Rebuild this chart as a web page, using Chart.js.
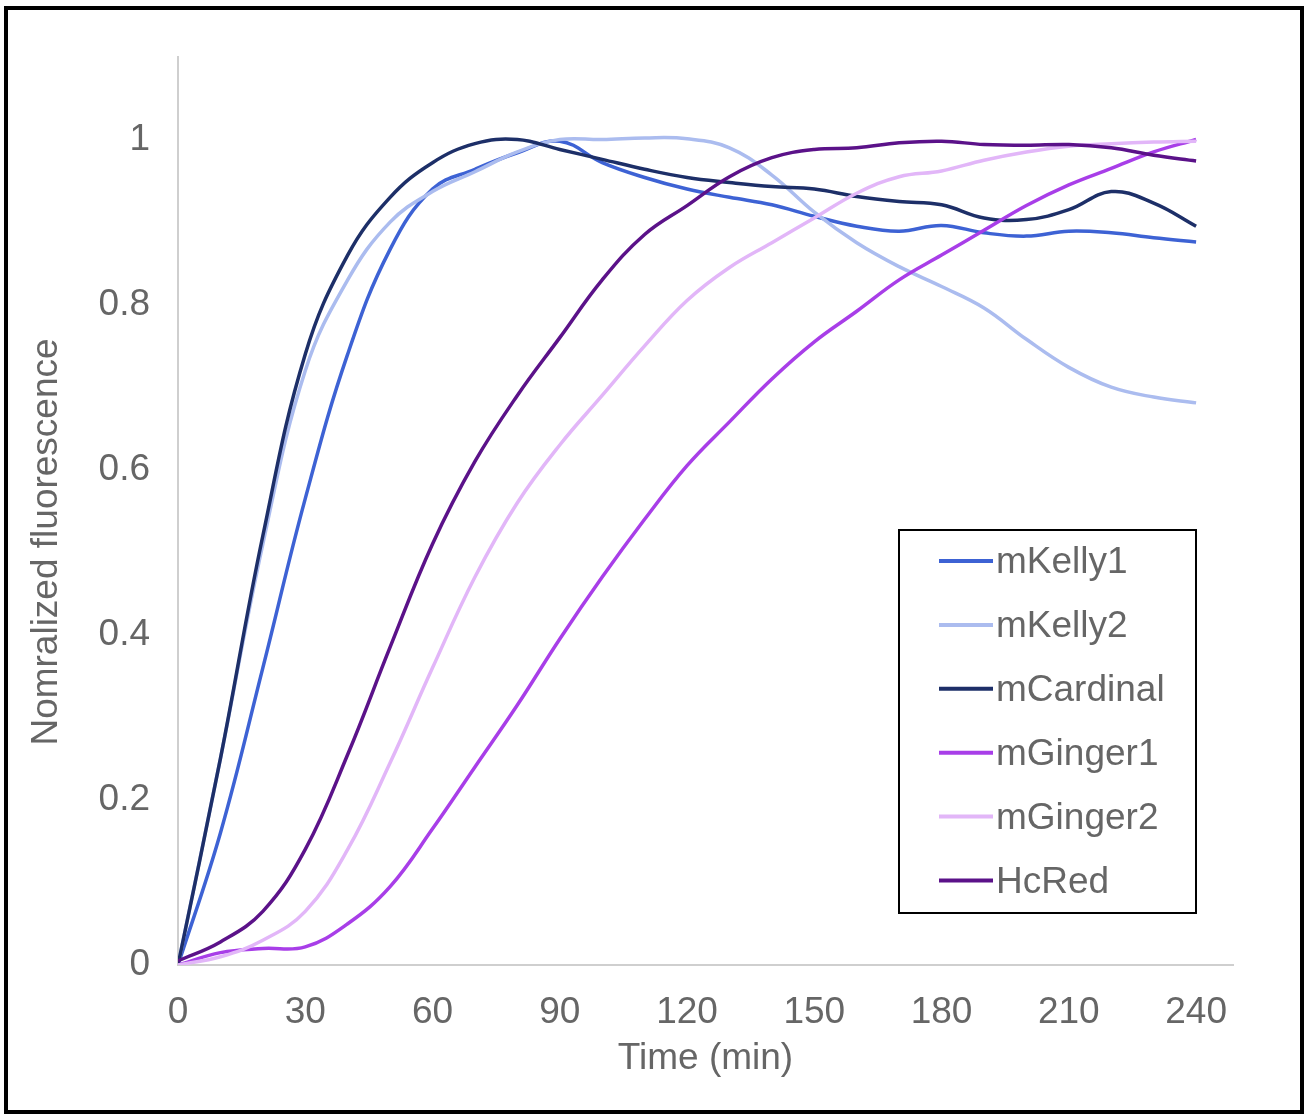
<!DOCTYPE html>
<html>
<head>
<meta charset="utf-8">
<script src="https://cdn.jsdelivr.net/npm/chart.js@4"></script>
<style>
  html, body { margin: 0; padding: 0; background: #fff; }
  #wrap { position: relative; width: 1304px; height: 1114px; overflow: hidden; }
  #frame { position: absolute; left: 4px; top: 6px; width: 1292px; height: 1100px; border: 4px solid #000; background: #fff; }
  #chart { position: absolute; left: 0; top: 0; }
</style>
</head>
<body>
<div id="wrap">
  <div id="frame"></div>
  <canvas id="chart" width="1304" height="1114"></canvas>
</div>
<script>
  // time points (min)
  const times = [0, 10, 20, 30, 40, 50, 60, 70, 80, 90, 100, 110, 120, 130, 140, 150, 160, 170, 180, 190, 200, 210, 220, 230, 240];

  const mKelly1 = [0, 0.16, 0.36, 0.565, 0.74, 0.867, 0.94, 0.964, 0.984, 0.998, 0.972, 0.954, 0.94, 0.93, 0.921, 0.907, 0.895, 0.889, 0.896, 0.887, 0.883, 0.889, 0.887, 0.881, 0.876];
  const mKelly2 = [0, 0.25, 0.51, 0.72, 0.83, 0.9, 0.937, 0.961, 0.985, 1.0, 1.0, 1.002, 1.001, 0.99, 0.957, 0.912, 0.875, 0.846, 0.822, 0.796, 0.758, 0.724, 0.7, 0.688, 0.681];
  const mCardinal = [0, 0.25, 0.52, 0.74, 0.86, 0.93, 0.972, 0.995, 1.0, 0.988, 0.976, 0.964, 0.954, 0.948, 0.943, 0.94, 0.931, 0.925, 0.921, 0.905, 0.903, 0.915, 0.937, 0.923, 0.895];
  const mGinger1 = [0, 0.015, 0.02, 0.022, 0.05, 0.095, 0.165, 0.24, 0.315, 0.395, 0.47, 0.54, 0.605, 0.658, 0.71, 0.755, 0.792, 0.83, 0.86, 0.89, 0.92, 0.945, 0.965, 0.985, 1.0];
  const mGinger2 = [0, 0.01, 0.03, 0.065, 0.14, 0.245, 0.36, 0.47, 0.56, 0.63, 0.69, 0.75, 0.805, 0.845, 0.875, 0.905, 0.935, 0.955, 0.962, 0.975, 0.985, 0.992, 0.995, 0.997, 0.998];
  const HcRed = [0.005, 0.028, 0.065, 0.14, 0.255, 0.385, 0.51, 0.61, 0.69, 0.76, 0.83, 0.885, 0.92, 0.955, 0.978, 0.988, 0.99, 0.996, 0.998, 0.994, 0.993, 0.994, 0.99, 0.981, 0.974];

  const seriesNames = ['mKelly1', 'mKelly2', 'mCardinal', 'mGinger1', 'mGinger2', 'HcRed'];
  const seriesValues = [mKelly1, mKelly2, mCardinal, mGinger1, mGinger2, HcRed];
  const seriesColors = ['#3d62d4', '#abbcef', '#1d2f68', '#a83ee8', '#e2b6f8', '#5b1289'];

  const xTicks = [0, 30, 60, 90, 120, 150, 180, 210, 240];
  const yTicks = [0, 0.2, 0.4, 0.6, 0.8, 1];

  const FONT = '"Liberation Sans", Arial, sans-serif';
  const GREY = '#666';
  const SIZE = 37;

  const datasets = seriesNames.map((name, i) => ({
    label: name,
    data: times.map((t, j) => ({ x: t, y: seriesValues[i][j] })),
    borderColor: seriesColors[i],
    borderWidth: 3.5,
    pointRadius: 0,
    tension: 0.4,
    fill: false,
    order: seriesNames.length - i
  }));

  // y title + boxed legend
  const overlay = {
    id: 'overlay',
    afterDraw(chart) {
      const ctx = chart.ctx;
      ctx.save();
      ctx.font = SIZE + 'px ' + FONT;
      ctx.fillStyle = GREY;
      ctx.textAlign = 'center';
      ctx.textBaseline = 'middle';
      ctx.translate(47, 542);
      ctx.rotate(-Math.PI / 2);
      ctx.fillText('Nomralized fluorescence', 0, 0);
      ctx.restore();

      ctx.save();
      ctx.strokeStyle = '#000';
      ctx.lineWidth = 2;
      ctx.strokeRect(899, 530, 297, 383);
      ctx.font = SIZE + 'px ' + FONT;
      ctx.textAlign = 'left';
      ctx.textBaseline = 'middle';
      seriesNames.forEach((name, i) => {
        const y = 561 + i * 63.9;
        ctx.strokeStyle = seriesColors[i];
        ctx.lineWidth = 4;
        ctx.beginPath();
        ctx.moveTo(939, y);
        ctx.lineTo(993, y);
        ctx.stroke();
        ctx.fillStyle = GREY;
        ctx.fillText(name, 996, y + 2);
      });
      ctx.restore();
    }
  };

  new Chart(document.getElementById('chart'), {
    type: 'line',
    data: { datasets },
    options: {
      responsive: false,
      animation: false,
      layout: { padding: { top: 57, right: 71, left: 0, bottom: 0 } },
      plugins: { legend: { display: false }, tooltip: { enabled: false } },
      scales: {
        x: {
          type: 'linear',
          min: 0,
          max: 248.7,
          afterBuildTicks: (s) => { s.ticks = xTicks.map(v => ({ value: v })); },
          afterFit: (s) => { s.height = 149; },
          grid: { display: false, drawTicks: false },
          border: { display: true, color: '#cfcfcf', width: 2 },
          ticks: { padding: 26, color: GREY, font: { family: FONT, size: SIZE }, maxRotation: 0, autoSkip: false },
          title: { display: true, text: 'Time (min)', color: GREY, font: { family: FONT, size: SIZE }, padding: { top: 0, bottom: 33 } }
        },
        y: {
          min: 0,
          max: 1.1,
          afterBuildTicks: (s) => { s.ticks = yTicks.map(v => ({ value: v })); },
          afterFit: (s) => { s.width = 178; },
          grid: { display: false, drawTicks: false },
          border: { display: true, color: '#cfcfcf', width: 2 },
          ticks: { padding: 28, color: GREY, font: { family: FONT, size: SIZE }, callback: (v) => String(Math.round(v * 10) / 10) }
        }
      }
    },
    plugins: [overlay]
  });
</script>
</body>
</html>
